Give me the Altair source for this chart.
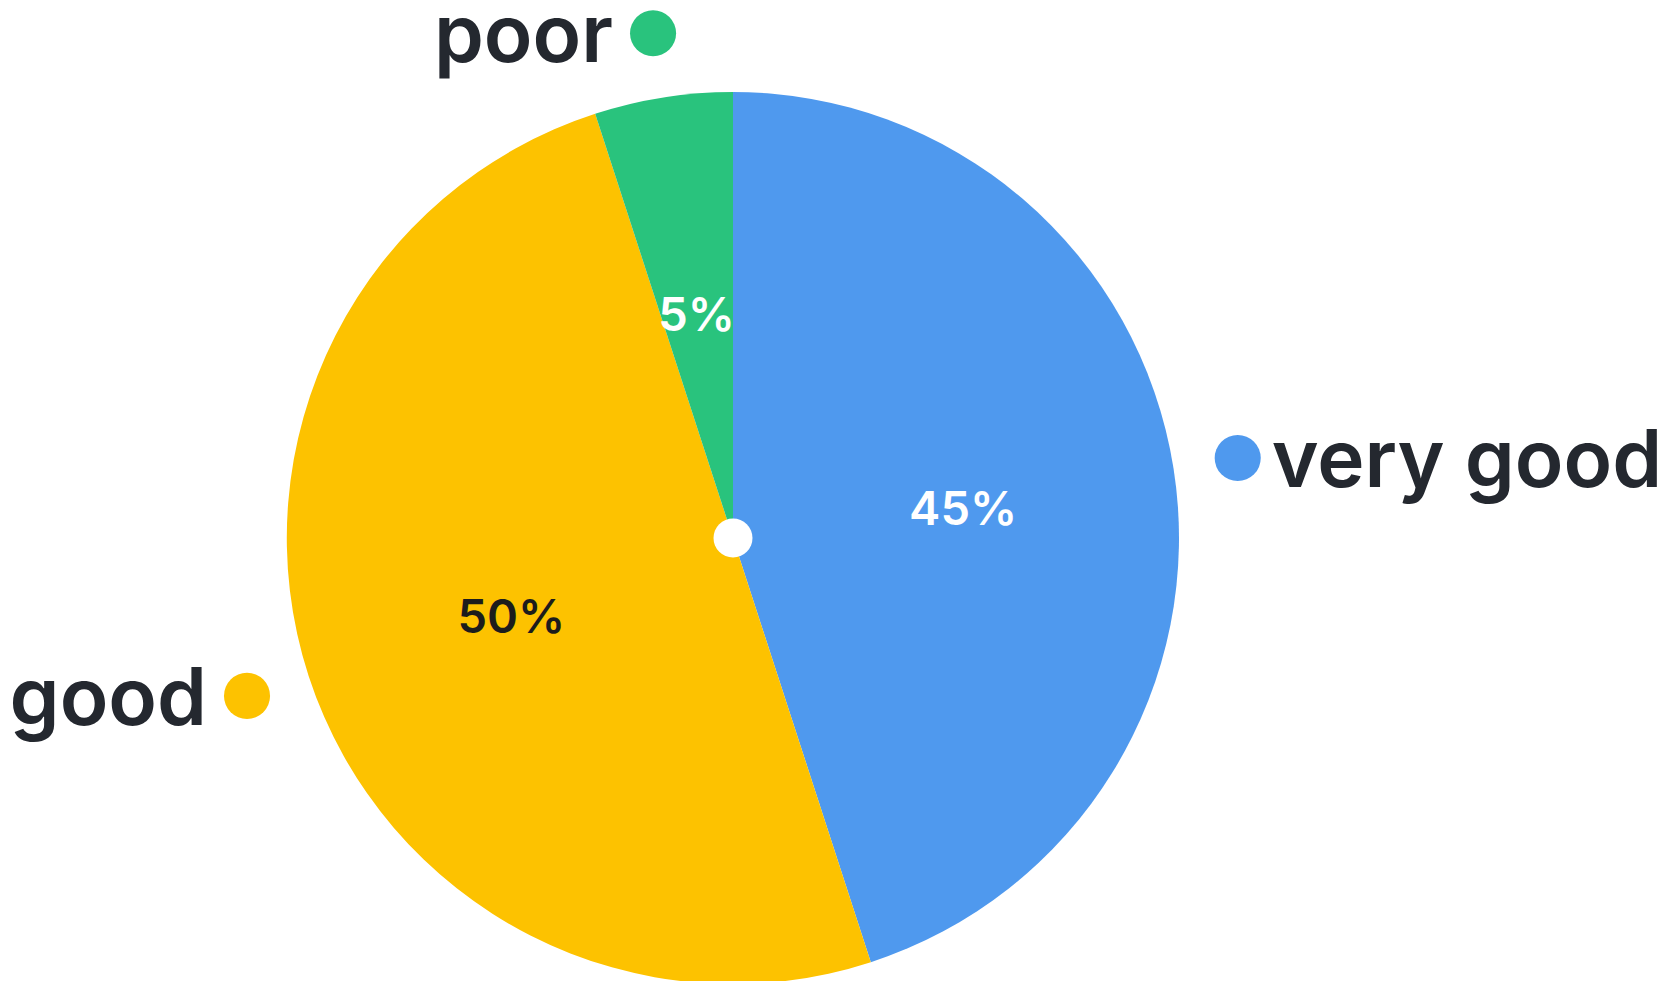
import altair as alt
import pandas as pd

categories = ["very good", "good", "poor"]
values = [45, 50, 5]
labels = ["45%", "50%", "5%"]
slice_colors = ["#4F99EE", "#FDC200", "#29C37D"]
label_colors = ["#FFFFFF", "#1C1C1C", "#FFFFFF"]

df = pd.DataFrame({
    "idx": list(range(len(categories))),
    "category": categories,
    "value": values,
    "label": labels,
    "lcolor": label_colors,
})

W, H = 1658, 973
CX, CY = 725, 530
R = 446
R_LABEL = 233
R_DOT = 511
TEXT_COLOR = "#24282F"

base = alt.Chart(df)

arcs = base.mark_arc(outerRadius=R).encode(
    theta=alt.Theta("value:Q", stack=True),
    color=alt.Color("category:N", scale=alt.Scale(domain=categories, range=slice_colors), legend=None),
    order=alt.Order("idx:Q"),
    x=alt.value(CX),
    y=alt.value(CY),
)

inner = base.mark_text(radius=R_LABEL, fontSize=47, font="Inter", fontWeight=600,
                       align="center", baseline="middle", dy=9).encode(
    theta=alt.Theta("value:Q", stack=True),
    text="label:N",
    color=alt.Color("lcolor:N", scale=None),
    order=alt.Order("idx:Q"),
    x=alt.value(CX),
    y=alt.value(CY),
)

center = alt.Chart(pd.DataFrame({"c": [0]})).mark_circle(size=1520, opacity=1, color="white").encode(
    x=alt.value(CX), y=alt.value(CY)
)

polar = (
    base.transform_window(cum="sum(value)", sort=[alt.SortField("idx")], frame=[None, 0])
    .transform_joinaggregate(total="sum(value)")
    .transform_calculate(ang="(datum.cum - datum.value/2) / datum.total * 2 * PI")
    .transform_calculate(
        px=f"{CX} + sin(datum.ang) * {R_DOT}",
        py=f"{CY} - cos(datum.ang) * {R_DOT}",
        right="sin(datum.ang) > 0",
    )
)

xenc = alt.X("px:Q", scale=alt.Scale(domain=[0, W], nice=False, zero=False), axis=None)
yenc = alt.Y("py:Q", scale=alt.Scale(domain=[H, 0], nice=False, zero=False), axis=None)

dots = polar.mark_circle(size=2124, opacity=1).encode(
    x=xenc, y=yenc,
    color=alt.Color("category:N", scale=alt.Scale(domain=categories, range=slice_colors), legend=None),
)

txt_right = polar.transform_filter("datum.right").mark_text(
    align="left", baseline="alphabetic", dx=34, dy=29, fontSize=80, font="Inter",
    fontWeight=600, color=TEXT_COLOR,
).encode(x=xenc, y=yenc, text="category:N")

txt_left = polar.transform_filter("!datum.right").mark_text(
    align="right", baseline="alphabetic", dx=-40, dy=29, fontSize=80, font="Inter",
    fontWeight=600, color=TEXT_COLOR,
).encode(x=xenc, y=yenc, text="category:N")

chart = alt.layer(arcs, inner, center, dots, txt_right, txt_left).properties(
    width=W, height=H, padding=0, autosize=alt.AutoSizeParams(type="none"), background="white"
).configure_view(stroke=None)

chart.save("out.html", embed_options={"renderer": "svg", "actions": False})
